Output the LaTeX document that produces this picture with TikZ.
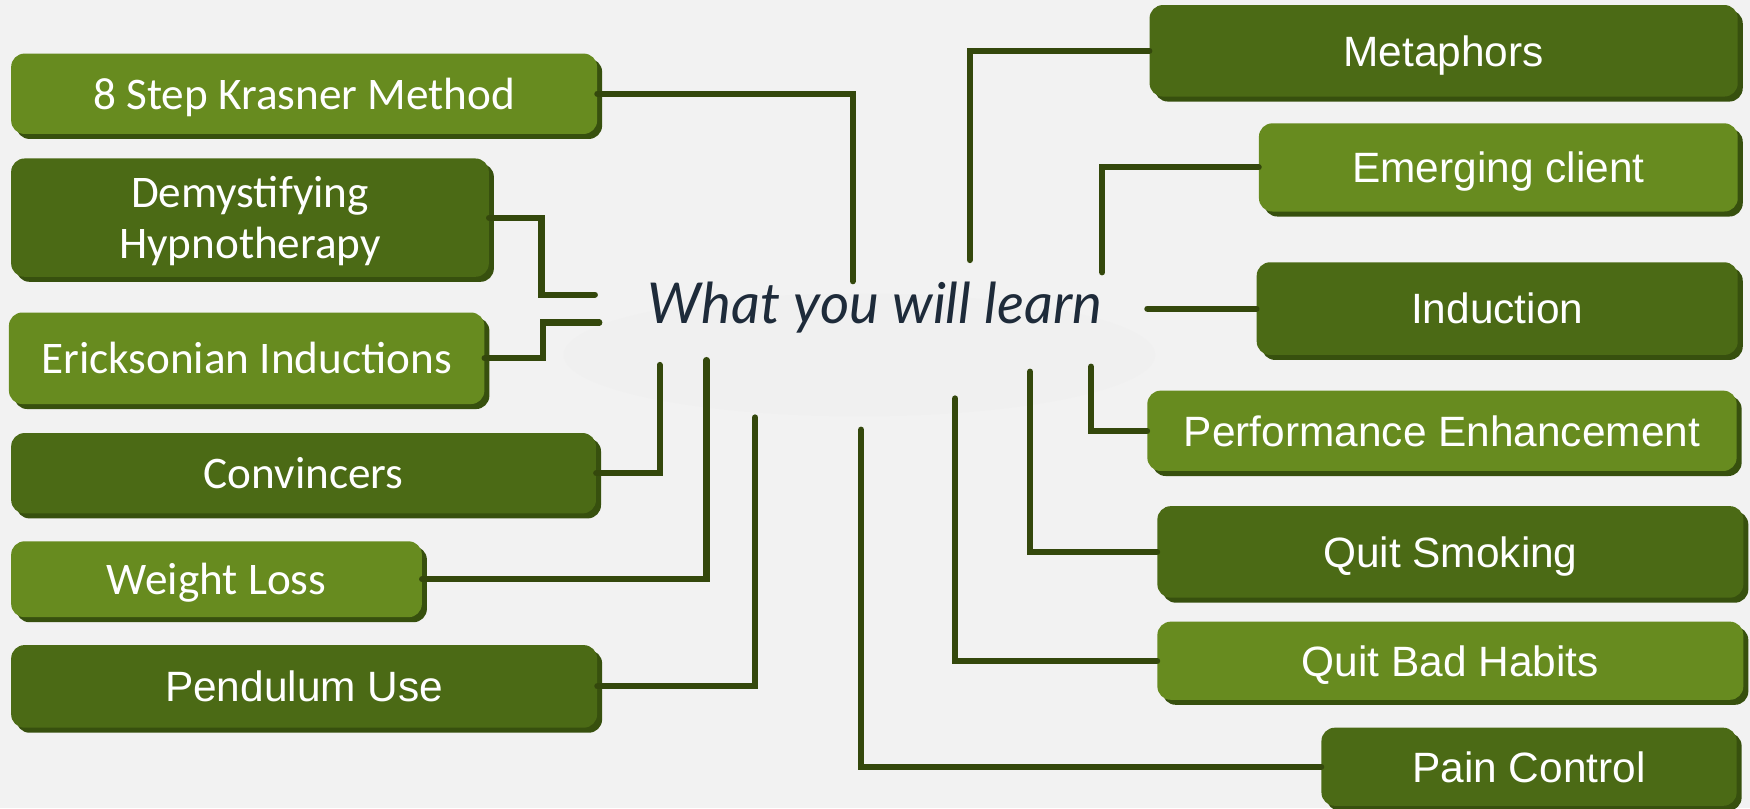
\documentclass[tikz,border=0pt]{standalone}
\usepackage{fontspec}
\setmainfont{Carlito}
\newfontfamily\arialf{Liberation Sans}
\newfontfamily\titlef{Lato}
\usetikzlibrary{shadows}
\definecolor{bgc}{HTML}{F2F2F2}
\definecolor{ellc}{HTML}{F0F0F0}
\definecolor{lightg}{HTML}{678B1F}
\definecolor{darkg}{HTML}{4B6A15}
\definecolor{shadowc}{HTML}{37500E}
\definecolor{linec}{HTML}{34480C}
\definecolor{titlec}{HTML}{1E2B3A}
\begin{document}
\begin{tikzpicture}[x=1pt,y=-1pt,
  box/.style={rounded corners=12pt, text=white, align=center, inner sep=0pt, text depth=0pt,
    drop shadow={shadow xshift=4.5pt, shadow yshift=-4.5pt, fill=shadowc, opacity=1}},
  lbox/.style={box, fill=lightg},
  dbox/.style={box, fill=darkg},
  lfont/.style={font=\fontsize{40.5}{46}\selectfont},
  rfont/.style={font=\arialf\fontsize{38}{42}\selectfont},
  conn/.style={draw=linec, line width=5.5pt, line cap=round}]
\fill[bgc] (0,0) rectangle (1568,724);
\useasboundingbox (0,0) rectangle (1568,724);
\fill[ellc] (770,318) ellipse [x radius=265, y radius=55];
% left boxes
\node[lbox, lfont, minimum width=525pt, minimum height=72pt] (A) at (272.5,84) {8 Step Krasner Method};
\node[dbox, lfont, minimum width=428pt, minimum height=106pt] (B) at (224,195) {Demystifying\\Hypnotherapy};
\node[lbox, lfont, minimum width=426pt, minimum height=82pt] (C) at (221,321) {Ericksonian Inductions};
\node[dbox, lfont, minimum width=524pt, minimum height=72pt] (D) at (272,424) {Convincers};
\node[lbox, lfont, minimum width=368pt, minimum height=68pt] (E) at (194,519) {Weight Loss};
\node[dbox, rfont, minimum width=525pt, minimum height=74pt] (F) at (272.5,615) {Pendulum Use};
% right boxes
\node[dbox, rfont, minimum width=527pt, minimum height=82pt] (G) at (1293.5,45.5) {Metaphors};
\node[lbox, rfont, minimum width=429pt, minimum height=79pt] (H) at (1342.5,150) {Emerging client};
\node[dbox, rfont, minimum width=431pt, minimum height=83pt] (I) at (1341.5,276.5) {Induction};
\node[lbox, rfont, minimum width=528pt, minimum height=72pt] (J) at (1292,386) {Performance Enhancement};
\node[dbox, rfont, minimum width=525pt, minimum height=82pt] (K) at (1299.5,494.5) {Quit Smoking};
\node[lbox, rfont, minimum width=525pt, minimum height=70pt] (L) at (1299.5,592) {Quit Bad Habits};
\node[dbox, rfont, minimum width=372pt, minimum height=70pt] (M) at (1370,687) {Pain Control};
% title
\node[font=\titlef\itshape\fontsize{50.5}{54}\selectfont, text=titlec, anchor=base, inner sep=0pt] (T) at (784,290) {What you will learn};
% connector ends
\coordinate (a1) at (764,252);
\coordinate (b1) at (533,264);
\coordinate (c1) at (537,289);
\coordinate (d1) at (591,327);
\coordinate (e1) at (633,322.6);
\coordinate (f1) at (676.6,374);
\coordinate (g1) at (869,233);
\coordinate (h1) at (987.6,244);
\coordinate (i1) at (1028,276.5);
\coordinate (j1) at (977.6,328.5);
\coordinate (k1) at (923,333);
\coordinate (l1) at (855.8,357);
\coordinate (m1) at (771.6,385);
% connectors
\draw[conn] (A.east) -| (a1);
\draw[conn] (B.east) -- ++(47,0) |- (b1);
\draw[conn] (C.east) -- ++(52,0) |- (c1);
\draw[conn] (D.east) -| (d1);
\draw[conn] (E.east) -| (e1);
\draw[conn] (F.east) -| (f1);
\draw[conn] (G.west) -| (g1);
\draw[conn] (H.west) -| (h1);
\draw[conn] (i1) -- (I.west);
\draw[conn] (J.west) -| (j1);
\draw[conn] (K.west) -| (k1);
\draw[conn] (L.west) -| (l1);
\draw[conn] (M.west) -| (m1);
\end{tikzpicture}
\end{document}
